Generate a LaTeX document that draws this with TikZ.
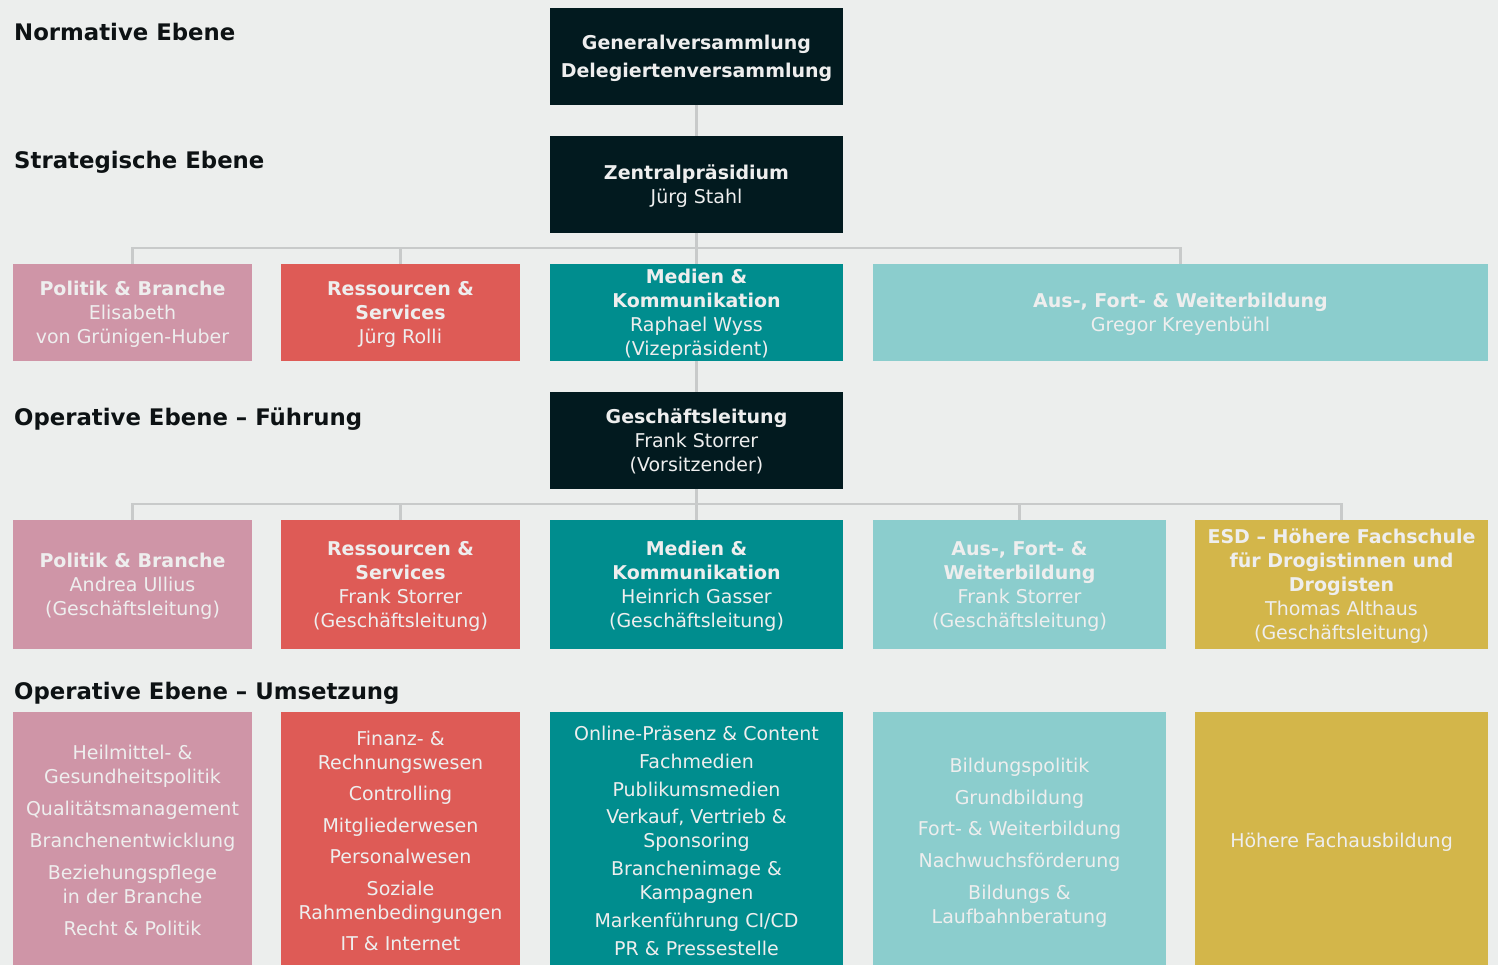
\documentclass[tikz,border=0pt]{standalone}
\usepackage{fontspec}
\setmainfont{DejaVu Sans}
\usetikzlibrary{positioning,calc}

\definecolor{bgr}{HTML}{ECEEED}
\definecolor{ink}{HTML}{0D1214}
\definecolor{dunkel}{HTML}{021A1F}
\definecolor{rosa}{HTML}{CF95A7}
\definecolor{rot}{HTML}{DE5B56}
\definecolor{petrol}{HTML}{008D8E}
\definecolor{tuerkis}{HTML}{8BCDCD}
\definecolor{gold}{HTML}{D3B64A}
\definecolor{hell}{HTML}{EEEEEE}
\definecolor{linie}{HTML}{C8CACA}

\newcommand{\kopf}[1]{\textbf{#1}}

\begin{document}
\begin{tikzpicture}[
  x=1pt, y=-1pt,
  node distance=29pt,
  org/.style={rectangle, inner sep=0pt, outer sep=0pt, align=center, text=hell,
    text depth=0pt, font=\fontsize{19}{24}\selectfont},
  schmal/.style={minimum width=239pt},
  breit/.style={minimum width=293pt},
  zeile1/.style={minimum height=97pt},
  zeile2/.style={minimum height=129pt},
  zeile3/.style={minimum height=257pt},
  ebene/.style={anchor=base west, inner sep=0pt, text=ink,
    font=\fontsize{22.8}{27}\selectfont\bfseries},
  conn/.style={draw=linie, line width=2.5pt}
]
\fill[bgr] (0,0) rectangle (1498,965);
\useasboundingbox (0,0) rectangle (1498,965);

% Ebenen
\node[ebene] (normativ) at (14,41) {Normative Ebene};
\node[ebene] (strategisch) at (14,169) {Strategische Ebene};
\node[ebene] (fuehrung) at (14,425) {Operative Ebene – Führung};
\node[ebene] (umsetzung) at (14,699) {Operative Ebene – Umsetzung};

% Gremien
\node[org, breit, zeile1, fill=dunkel, anchor=north west,
  font=\fontsize{19}{28}\selectfont\bfseries] (gv) at (550,8)
  {Generalversammlung\\Delegiertenversammlung};
\node[org, breit, zeile1, fill=dunkel, below=31pt of gv] (zp)
  {\kopf{Zentralpräsidium}\\Jürg Stahl};

% Ressorts Zentralpraesidium
\node[org, schmal, zeile1, fill=rosa, anchor=north west] (pb1) at (13,264)
  {\kopf{Politik \& Branche}\\Elisabeth\\von Grünigen-Huber};
\node[org, schmal, zeile1, fill=rot, right=of pb1] (rs1)
  {\kopf{Ressourcen \&}\\\kopf{Services}\\Jürg Rolli};
\node[org, breit, zeile1, fill=petrol, right=30pt of rs1] (mk1)
  {\kopf{Medien \&}\\\kopf{Kommunikation}\\Raphael Wyss\\(Vizepräsident)};
\node[org, minimum width=615pt, zeile1, fill=tuerkis, right=30pt of mk1] (aw1)
  {\kopf{Aus-, Fort- \& Weiterbildung}\\Gregor Kreyenbühl};

% Geschaeftsleitung
\node[org, breit, zeile1, fill=dunkel, below=31pt of mk1] (gl)
  {\kopf{Geschäftsleitung}\\Frank Storrer\\(Vorsitzender)};

\node[org, schmal, zeile2, fill=rosa, anchor=north west] (pb2) at (13,520)
  {\kopf{Politik \& Branche}\\Andrea Ullius\\(Geschäftsleitung)};
\node[org, schmal, zeile2, fill=rot, right=of pb2] (rs2)
  {\kopf{Ressourcen \&}\\\kopf{Services}\\Frank Storrer\\(Geschäftsleitung)};
\node[org, breit, zeile2, fill=petrol, right=30pt of rs2] (mk2)
  {\kopf{Medien \&}\\\kopf{Kommunikation}\\Heinrich Gasser\\(Geschäftsleitung)};
\node[org, breit, zeile2, fill=tuerkis, right=30pt of mk2] (aw2)
  {\kopf{Aus-, Fort- \&}\\\kopf{Weiterbildung}\\Frank Storrer\\(Geschäftsleitung)};
\node[org, breit, zeile2, fill=gold, right=of aw2] (esd)
  {\kopf{ESD – Höhere Fachschule}\\\kopf{für Drogistinnen und}\\\kopf{Drogisten}\\Thomas Althaus\\(Geschäftsleitung)};

% Umsetzung (unten angeschnitten)
\node[org, schmal, zeile3, fill=rosa, below=63pt of pb2] (pb3)
  {Heilmittel- \&\\Gesundheitspolitik\\[8pt]Qualitätsmanagement\\[8pt]Branchenentwicklung\\[8pt]Beziehungspflege\\in der Branche\\[8pt]Recht \& Politik};
\node[org, schmal, zeile3, fill=rot, below=63pt of rs2] (rs3)
  {Finanz- \&\\Rechnungswesen\\[7pt]Controlling\\[8pt]Mitgliederwesen\\[7pt]Personalwesen\\[8pt]Soziale\\Rahmenbedingungen\\[7pt]IT \& Internet};
\node[org, breit, zeile3, fill=petrol, below=63pt of mk2] (mk3)
  {Online-Präsenz \& Content\\[4pt]Fachmedien\\[4pt]Publikumsmedien\\[3pt]Verkauf, Vertrieb \&\\Sponsoring\\[4pt]Branchenimage \&\\Kampagnen\\[4pt]Markenführung CI/CD\\[4pt]PR \& Pressestelle};
\node[org, breit, zeile3, fill=tuerkis, below=63pt of aw2] (aw3)
  {Bildungspolitik\\[8pt]Grundbildung\\[7pt]Fort- \& Weiterbildung\\[8pt]Nachwuchsförderung\\[8pt]Bildungs \&\\Laufbahnberatung};
\node[org, breit, zeile3, fill=gold, below=63pt of esd] (hfa)
  {Höhere Fachausbildung};

% Verbindungen
\coordinate (bus1) at (696,248);
\coordinate (bus2) at (696,504);
\draw[conn] (gv.south) -- (zp.north);
\draw[conn] (zp.south) -- (mk1.north);
\draw[conn] (pb1.north) |- (bus1) -| (aw1.north);
\draw[conn] (rs1.north) -- (rs1.north |- bus1);
\draw[conn] (mk1.south) -- (gl.north);
\draw[conn] (gl.south) -- (mk2.north);
\draw[conn] (pb2.north) |- (bus2) -| (esd.north);
\draw[conn] (rs2.north) -- (rs2.north |- bus2);
\draw[conn] (aw2.north) -- (aw2.north |- bus2);
\end{tikzpicture}
\end{document}
